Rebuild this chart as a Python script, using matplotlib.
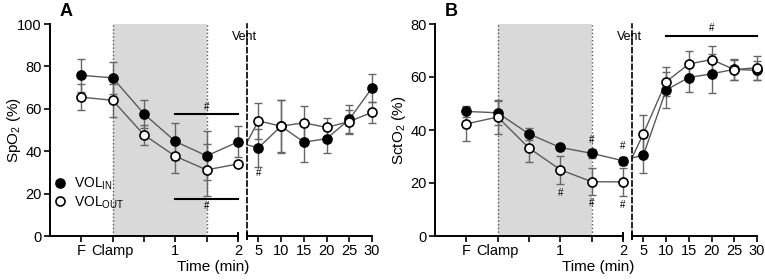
import matplotlib
matplotlib.use("Agg")
import matplotlib.pyplot as plt
import numpy as np

plt.rcParams['font.family'] = ['Liberation Sans', 'DejaVu Sans']
plt.rcParams['mathtext.fontset'] = 'custom'
plt.rcParams['mathtext.rm'] = 'Liberation Sans'
plt.rcParams['mathtext.it'] = 'Liberation Sans:italic'

# ---- data ----
early_labels = ["F", "Clamp", "", "1", "", "2"]
late_times = [5, 10, 15, 20, 25, 30]

# Panel A: SpO2
spo2_in_early = [75.8, 74.6, 57.6, 44.6, 37.8, 44.4]
spo2_in_early_err = [7.7, 7.7, 6.5, 8.6, 11.5, 7.3]
spo2_out_early = [65.5, 64.0, 47.7, 37.6, 31.2, 34.0]
spo2_out_early_err = [6.0, 7.8, 4.6, 7.8, 12.2, 1.5]
spo2_in_late = [41.6, 51.8, 44.3, 45.9, 55.0, 69.8]
spo2_in_late_err = [9.0, 12.5, 9.4, 6.6, 6.8, 6.8]
spo2_out_late = [54.3, 51.8, 53.4, 51.2, 54.0, 58.3]
spo2_out_late_err = [8.4, 12.2, 7.8, 4.4, 5.6, 4.9]

# Panel B: SctO2
scto2_in_early = [47.0, 46.5, 38.5, 33.4, 31.2, 28.4]
scto2_in_early_err = [2.2, 4.6, 2.2, 1.0, 1.8, 1.5]
scto2_out_early = [42.3, 44.9, 33.2, 25.0, 20.5, 20.4]
scto2_out_early_err = [6.5, 6.5, 5.4, 5.3, 5.2, 5.3]
scto2_in_late = [30.5, 55.1, 59.8, 61.2, 62.9, 62.5]
scto2_in_late_err = [6.7, 6.8, 5.3, 7.4, 3.9, 3.6]
scto2_out_late = [38.6, 58.2, 64.9, 66.6, 62.8, 63.5]
scto2_out_late_err = [7.2, 5.5, 4.8, 5.2, 3.8, 4.5]

series_labels = ["VOL$_\\mathregular{IN}$", "VOL$_\\mathregular{OUT}$"]

LINE_C = '#5a5a5a'
ERR_C = '#666666'

fig = plt.figure(figsize=(7.65, 2.8), dpi=100)

def px_axes(x0, x1, y0=24, y1=236):
    return fig.add_axes([x0 / 765, 1 - y1 / 280, (x1 - x0) / 765, (y1 - y0) / 280])

def draw_series(ax, x, y, err, filled, x_line=None, y_line=None, label=None):
    xl = x if x_line is None else x_line
    yl = y if y_line is None else y_line
    ax.plot(xl, yl, color=LINE_C, lw=1.0, zorder=2)
    ax.errorbar(x, y, yerr=err, fmt='none', ecolor=ERR_C, elinewidth=1.0,
                capsize=3, capthick=1.0, zorder=3, clip_on=False)
    ax.plot(x, y, 'o', ms=6.5, mfc='black' if filled else 'white', mec='black',
            mew=1.2, zorder=4, clip_on=False, label=label)

def style_axes(ax):
    for s in ['top', 'right']:
        ax.spines[s].set_visible(False)
    for s in ['left', 'bottom']:
        ax.spines[s].set_linewidth(1.4)
    ax.tick_params(axis='both', direction='out', length=4, width=1.2, labelsize=10.5, pad=2)

def make_panel(x0, ymax, in_e, in_e_err, out_e, out_e_err, in_l, in_l_err, out_l, out_l_err,
               ylabel, letter, legend=False):
    axL = px_axes(x0 + 0, x0 + 188)
    axR = px_axes(x0 + 197, x0 + 322)
    xs = np.arange(len(early_labels))
    # shaded clamp region
    axL.axvspan(1, 4, color='#d9d9d9', zorder=0, lw=0)
    for xv in (1, 4):
        axL.axvline(xv, color='#555555', ls=':', lw=1.0, zorder=1)
    draw_series(axL, xs, in_e, in_e_err, True, label=series_labels[0])
    draw_series(axL, xs, out_e, out_e_err, False, label=series_labels[1])
    axL.set_xlim(-1, 5)
    axL.set_ylim(0, ymax)
    axL.set_xticks(xs)
    axL.set_xticklabels(early_labels)
    axL.set_yticks(np.arange(0, ymax + 1, 20))
    style_axes(axL)
    axL.set_ylabel(ylabel, fontsize=11)
    axL.yaxis.set_label_coords(-0.145, 0.5)
    # break mark at right end
    axL.plot([1, 1], [-0.015, 0.015], transform=axL.transAxes, color='black', lw=1.4, clip_on=False)

    # late panel: line continues from the 2-min value (time 0 of ventilation)
    tl = [0] + late_times
    draw_series(axR, late_times, in_l, in_l_err, True, x_line=tl, y_line=[in_e[-1]] + in_l)
    draw_series(axR, late_times, out_l, out_l_err, False, x_line=tl, y_line=[out_e[-1]] + out_l)
    axR.set_xlim(2.5, 30)
    axR.set_ylim(0, ymax)
    axR.set_xticks(late_times)
    axR.set_yticks([])
    style_axes(axR)
    axR.spines['left'].set_linestyle((0, (3, 2)))
    axR.spines['left'].set_linewidth(1.2)
    axR.plot([0, 0], [-0.015, 0.015], transform=axR.transAxes, color='black', lw=1.4, clip_on=False)
    axR.text(-0.02, 0.94, "Vent", transform=axR.transAxes, ha='center', va='center', fontsize=9)

    fig.text((x0 + 163) / 765, 1 - 267 / 280, "Time (min)", ha='center', va='center', fontsize=11)
    fig.text((x0 + 16) / 765, 1 - 12 / 280, letter, ha='center', va='center',
             fontsize=13, fontweight='bold')
    if legend:
        axL.legend(loc='lower left', bbox_to_anchor=(0.01, 0.12), frameon=False,
                   fontsize=10, handlelength=1.2, handletextpad=0.4, labelspacing=0.15,
                   borderpad=0, borderaxespad=0)
    return axL, axR

aL, aR = make_panel(50, 100, spo2_in_early, spo2_in_early_err, spo2_out_early, spo2_out_early_err,
                    spo2_in_late, spo2_in_late_err, spo2_out_late, spo2_out_late_err,
                    "SpO$_\\mathregular{2}$ (%)", "A", legend=True)
bL, bR = make_panel(435, 80, scto2_in_early, scto2_in_early_err, scto2_out_early, scto2_out_early_err,
                    scto2_in_late, scto2_in_late_err, scto2_out_late, scto2_out_late_err,
                    "SctO$_\\mathregular{2}$ (%)", "B")

# significance markers
aL.plot([3, 5], [57.6, 57.6], color='black', lw=1.5, clip_on=False)
aL.text(4, 58.5, "#", ha='center', va='bottom', fontsize=7)
aL.plot([3, 5], [17.3, 17.3], color='black', lw=1.5, clip_on=False)
aL.text(4, 16.3, "#", ha='center', va='top', fontsize=7)
aR.text(5, 29.5, "#", ha='center', va='center', fontsize=7)

bR.plot([10, 30], [75.6, 75.6], color='black', lw=1.5, clip_on=False)
bR.text(20, 76.5, "#", ha='center', va='bottom', fontsize=7)
for xv, yv in [(4, 36.3), (5, 33.8), (3, 16.3), (4, 12.3), (5, 11.7)]:
    bL.text(xv, yv, "#", ha='center', va='center', fontsize=7)

fig.savefig("out.png", dpi=100)
